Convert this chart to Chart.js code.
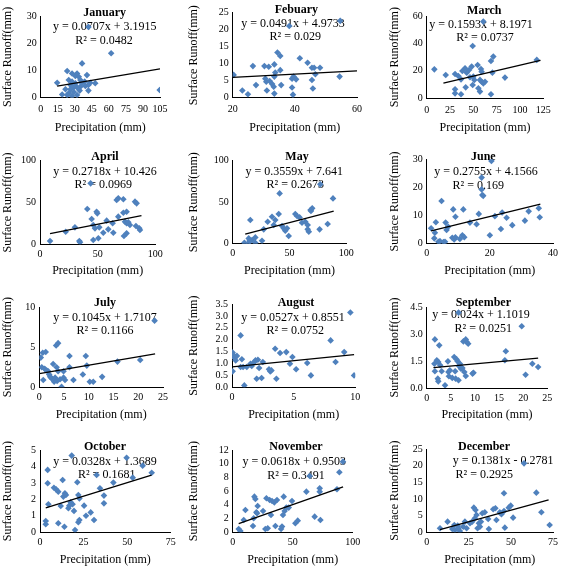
<!DOCTYPE html>
<html>
<head>
<meta charset="utf-8">
<script src="https://cdn.jsdelivr.net/npm/chart.js@4.4.0/dist/chart.umd.min.js"></script>
<style>
  body { margin: 0; background: #fff; }
  #page { position: relative; width: 562px; height: 567px; overflow: hidden; }
  #page canvas { position: absolute; }
</style>
</head>
<body>
<div id="page"></div>
<script>
// ---- data ----
const months = ['January', 'Febuary', 'March', 'April', 'May', 'June',
  'July', 'August', 'September', 'October', 'November', 'December'];
const equations = ['y = 0.0707x + 3.1915', 'y = 0.0491x + 4.9733', 'y = 0.1593x + 8.1971',
  'y = 0.2718x + 10.426', 'y = 0.3559x + 7.641', 'y = 0.2755x + 4.1566',
  'y = 0.1045x + 1.7107', 'y = 0.0527x + 0.8551', 'y = 0.024x + 1.1019',
  'y = 0.0328x + 1.3689', 'y = 0.0618x + 0.9503', 'y = 0.1381x - 0.2781'];
const rSquared = ['0.0482', '0.029', '0.0737', '0.0969', '0.2673', '0.169',
  '0.1166', '0.0752', '0.0251', '0.1681', '0.3491', '0.2925'];
const slopes = [0.0707, 0.0491, 0.1593, 0.2718, 0.3559, 0.2755, 0.1045, 0.0527, 0.024, 0.0328, 0.0618, 0.1381];
const intercepts = [3.1915, 4.9733, 8.1971, 10.426, 7.641, 4.1566, 1.7107, 0.8551, 1.1019, 1.3689, 0.9503, -0.2781];
const trendFrom = [14.5, 20, 17.9, 8.7, 11, 1.4, 0, 0, 1.4, 3.3, 5, 7.9];
const trendTo = [105, 60, 122, 88, 88.9, 36, 23.4, 9.9, 23.1, 64, 92, 72.4];

const xMin = [0, 20, 0, 0, 0, 0, 0, 0, 0, 0, 0, 0];
const xMax = [105, 60, 125, 100, 100, 40, 25, 10, 25, 75, 100, 75];
const xStep = [15, 20, 25, 50, 50, 20, 5, 5, 5, 25, 50, 25];
const yMax = [30, 25, 60, 100, 100, 30, 10, 3.5, 4.5, 5, 12, 25];
const yStep = [10, 5, 20, 50, 50, 10, 5, 0.5, 1.5, 1, 2, 5];
const yDecimals = [0, 0, 0, 0, 0, 0, 0, 1, 1, 0, 0, 0];

const janX = [62, 104.7, 36.4, 23.3, 14.5, 18.9, 40.7, 48, 42, 27.6, 30.5, 33.5, 24.7, 26.2, 29.1, 21.8, 24.7, 27.6, 32, 34.9, 38.7, 43.6, 32, 30.5, 34.9, 39.3, 26.2, 29.1, 34.3, 42, 36.4, 32, 27.6, 23.3, 42];
const janY = [16.3, 2.8, 12.6, 9.8, 5.5, 1.2, 8.3, 5.3, 2.6, 8.9, 8, 7.7, 6.5, 4.7, 3.8, 3.1, 1.6, 0.6, 1, 4, 5.9, 5.5, 3.8, 5.3, 6.5, 4.3, 3.1, 2.1, 2.6, 4.7, 5.3, 8.9, 5.9, 1, 26];
const febX = [54.6, 38.2, 20.3, 26.5, 30.2, 31.6, 33.4, 34.4, 35.3, 35.3, 33.7, 33.4, 30.5, 30.8, 31.9, 32.7, 33.2, 31, 33.4, 35.6, 27.5, 23.1, 24.9, 39.1, 39.6, 40.4, 39.1, 39.4, 41.6, 44.1, 45.5, 46.2, 48.1, 46.6, 45.5, 45.8, 54.4];
const febY = [22.6, 21.1, 6.7, 9.3, 9.3, 9.1, 9.8, 13.3, 12.3, 8.1, 7.4, 6.2, 5.6, 4.7, 4.9, 4, 3.2, 2.1, 1.2, 3.7, 3.7, 2.1, 1, 5.6, 6.2, 5.4, 3, 0.9, 11.6, 10.3, 8.8, 8.8, 8.8, 6.9, 5.2, 2.7, 6.2];
const marX = [8.2, 20.4, 30.4, 30.4, 36.8, 30.4, 33.9, 36.8, 41.1, 42.9, 45.4, 48.2, 50, 51.1, 49.3, 41.8, 54.6, 58.2, 58.9, 57.1, 58.9, 60.7, 62.5, 55.4, 57.1, 68.9, 71.4, 70.4, 68.9, 83.9, 118, 60.7, 49.3, 38.2, 46.4];
const marY = [21.1, 17, 6.6, 3.6, 2.9, 17.7, 16.3, 13.8, 21.9, 18.7, 20.6, 23.1, 15.8, 13.4, 9.7, 8, 24.3, 21.4, 19.4, 13.4, 12.1, 10.9, 12.1, 7.3, 4.9, 27.2, 30.4, 18.7, 2.9, 15.1, 28, 55.9, 38.1, 19.9, 15.3];
const aprX = [8.7, 22.3, 30.3, 34.1, 34.7, 41, 43.9, 44.8, 46.2, 47.7, 49.1, 49.7, 46.2, 50.6, 51.4, 57.8, 54.9, 59.2, 63, 63.6, 66.5, 67.9, 72.3, 67.9, 72.3, 75.1, 73.7, 75.1, 72.8, 75.1, 78, 82.4, 83.8, 83.2, 86.1, 86.7, 76.6];
const aprY = [4, 15.1, 20.3, 4, 2.4, 42.2, 72.9, 30.3, 23.1, 19.1, 39, 37, 5.2, 7.2, 20.3, 28.3, 13.9, 17.9, 25.1, 13.9, 53, 55, 53.8, 33.1, 37.8, 39, 27.1, 25.1, 10, 13.1, 23.1, 51, 49, 21.9, 19.1, 17.1, 26.3];
const mayX = [10.3, 14.1, 15.5, 17.1, 19.9, 19.9, 25.8, 27.3, 14.1, 15, 30.8, 34.6, 37.5, 36.1, 40.5, 41.3, 43.4, 44.9, 46.3, 49.3, 47.8, 55.1, 56.6, 58.9, 61, 63.9, 66, 66, 67, 68.5, 70, 68.9, 76.5, 77.1, 83.6, 88.3];
const mayY = [1.2, 6.4, 28.5, 4.4, 7.6, 1.2, 3.6, 17.3, 1.2, 3.6, 26.5, 32.5, 28.5, 22.5, 35.7, 60.6, 21.3, 18.5, 15.7, 9.2, 18.5, 35.7, 33.3, 31.7, 25.3, 26.5, 22.5, 17.3, 14.5, 40.6, 42.6, 39.4, 17.3, 71.5, 23.7, 54.6];
const junX = [1.4, 2.6, 2.4, 2.9, 3.7, 4.2, 4.7, 5.3, 5.8, 6, 6.3, 6.8, 8.1, 8.4, 8.7, 9.1, 9.1, 10.5, 11.3, 11.6, 11.9, 13.7, 15.8, 16.5, 17.4, 17.4, 17.6, 17.9, 20, 20.5, 21.6, 23.9, 23.5, 25.3, 27.1, 31.1, 32.3, 35.5, 35.8];
const junY = [5.5, 3.9, 1.9, 7.6, 0.7, 0.9, 15.2, 0.6, 0.7, 7.5, 4.9, 6, 2.1, 12.2, 1.5, 9.6, 2.3, 1.7, 3, 12.2, 2.3, 7.5, 6.9, 10.6, 23.5, 19.3, 17.3, 17, 3, 29.4, 9.8, 11.1, 5.2, 9.2, 6.6, 8.2, 11.5, 12.6, 9.4];
const julX = [0.3, 0.5, 0.7, 0.8, 1.3, 1.1, 1.5, 1.8, 2, 2.2, 2.5, 2.8, 3, 3.4, 3.8, 3.5, 3.8, 3.2, 3.6, 4.2, 4.5, 4.9, 5.2, 6.1, 6.1, 6.9, 8.8, 9.4, 9.6, 10.2, 10.9, 12.7, 15.8, 20.4, 23.3, 4.9];
const julY = [3.7, 2.5, 4.3, 0.9, 4.4, 2.3, 2.1, 2, 1.6, 1.3, 1.1, 2.9, 0.7, 5.2, 5.5, 2.5, 2, 1.2, 0.8, 1, 0.05, 1.2, 0.9, 3.9, 2.5, 0.9, 1.6, 3.9, 2.7, 0.7, 0.7, 1.3, 3.2, 3.4, 8.3, 2];
const augX = [0.05, 0.05, 0.1, 0.2, 0.3, 0.4, 0.7, 0.7, 0.8, 0.9, 1, 1.2, 1.5, 1.6, 1.8, 1.9, 2, 2.1, 2.2, 2.4, 2.5, 3, 3.1, 3.2, 3.5, 3.6, 3.9, 4.4, 4.7, 4.9, 5.2, 6.1, 6.4, 8, 8.4, 9.1, 9.6, 9.9];
const augY = [1.46, 0.67, 1.37, 1.23, 1.13, 1.32, 2.18, 0.85, 1.18, 0.85, 0.08, 0.85, 0.99, 0.9, 1.06, 1.13, 0.36, 1.16, 0.81, 0.39, 1.06, 0.76, 0.67, 0.71, 1.62, 0.36, 1.44, 1.48, 0.99, 1.27, 0.76, 1.02, 0.5, 1.97, 1.06, 1.48, 3.14, 0.5];
const sepX = [1.7, 1.6, 1.7, 2.1, 2.4, 2.6, 2.3, 2.4, 2.8, 3.1, 3.8, 4.4, 4.5, 4.6, 4.8, 5.3, 5.7, 5.9, 6, 6.2, 6.4, 6.6, 6.7, 6.9, 7.1, 7.4, 7.6, 7.8, 8.1, 8.3, 8.6, 8.1, 9.7, 9.5, 6.6, 16.2, 16.4, 19.7, 20.5, 21.9, 23.1];
const sepY = [2.7, 1.35, 0.93, 1.54, 1.44, 2.37, 0.52, 0.37, 1.26, 0.93, 0.15, 1.48, 0.89, 0.65, 0.98, 0.56, 1.72, 0.93, 0.52, 1.59, 1.48, 0.43, 1.22, 1.35, 1.07, 1.11, 2.59, 0.89, 2.7, 2.56, 2.46, 0.67, 0.85, 0.8, 4.19, 1.54, 2.04, 3.43, 0.74, 1.35, 1.17];
const octX = [3.3, 3.3, 4.4, 4.4, 4.8, 8, 9.2, 10.5, 10.5, 11.9, 13, 13.4, 14.3, 14, 14.9, 16.3, 16.8, 17.6, 18.2, 18.7, 19.5, 20.1, 21.4, 22, 22.6, 22, 22.6, 25.3, 26.4, 29.1, 31, 32.5, 34.4, 36.7, 36.7, 42.1, 49.7, 53.2, 58.9, 64.1];
const octY = [0.69, 0.49, 3.79, 2.98, 1.7, 2.71, 2.61, 2.47, 0.55, 1.6, 3.18, 2.17, 2.37, 0.34, 2.27, 1.46, 1.62, 1.82, 4.66, 1.7, 1.3, 0.14, 3.04, 2.27, 2.06, 0.61, 0.75, 1.62, 1.01, 1.21, 0.75, 3.48, 2.67, 2.23, 1.76, 3.02, 4.53, 3.32, 4.05, 3.62];
const novX = [5, 6.4, 9.2, 10.6, 16.9, 17.5, 18.1, 18.9, 19.7, 20.3, 20.8, 25.3, 27.2, 28.1, 29.2, 30.8, 31.9, 32.8, 34.7, 35.6, 36.9, 40.3, 41.1, 41.9, 42.5, 43.3, 44.7, 46.7, 49.4, 52.2, 54.2, 61.4, 64.2, 68.3, 72.5, 72.5, 73.1, 86.9, 88.9, 91.9];
const novY = [0.49, 0.19, 1.8, 3.26, 0.92, 2.04, 5.2, 4.86, 2.92, 2.77, 3.84, 3.11, 0.49, 4.96, 0.58, 4.71, 2.53, 4.57, 4.37, 0.92, 4.71, 0.49, 0.83, 2.53, 5.2, 3.11, 3.6, 3.6, 4.57, 1.31, 1.7, 5.93, 8.21, 2.28, 6.41, 5.93, 1.8, 6.27, 8.75, 10.3];
const decX = [7.9, 12.4, 15.2, 16.4, 16.8, 18.4, 18.8, 19.7, 21.7, 22.7, 23.7, 25.7, 27, 28, 29, 28.6, 29.6, 30.2, 31, 31.6, 32.2, 33, 34.5, 36.5, 36.9, 39.5, 40.8, 41.4, 43.4, 44.4, 45.9, 45.9, 46.4, 48.7, 49.9, 51.3, 57.8, 65.1, 68.1, 73];
const decY = [1.2, 3.2, 1, 2.2, 0.7, 2, 1.2, 0.4, 1.7, 3.2, 1.2, 2.7, 3.2, 7.4, 6.7, 4.2, 5.2, 1.2, 2.7, 1.7, 3.2, 5.7, 6, 4, 1, 6.9, 7.2, 3.7, 6, 5.4, 11.7, 6.4, 1.4, 7.4, 8, 4.4, 20.7, 11.9, 6, 2.2];

const precip = [janX, febX, marX, aprX, mayX, junX, julX, augX, sepX, octX, novX, decX];
const runoff = [janY, febY, marY, aprY, mayY, junY, julY, augY, sepY, octY, novY, decY];

// ---- layout (page pixels) ----
const cols = [0, 187, 375, 562];
const rows = [0, 140, 282, 425, 567];
// plot area [left, right, top, bottom]
const plotBox = [
  [40.7, 160, 16, 97.7], [232.7, 357, 12.7, 97.7], [426.7, 543.3, 16, 98.3],
  [40, 155.3, 160.7, 244.3], [232.7, 346.3, 160.7, 243.7], [426.7, 553.3, 159.3, 243.7],
  [39.3, 163, 307, 387.3], [232, 355.3, 304, 387.3], [426.7, 547.3, 307, 388],
  [40, 170.7, 450, 532.3], [232.7, 352.7, 450, 532.3], [426.7, 553.3, 449, 532.3]
];
const yTitleX = [7.5, 194, 395];
const xTitleY = [128, 270.7, 414.7, 560];
const xTickGap = [6, 4, 4, 4];
// [titleX, titleY, eqX, eqY, r2X, r2Y]
const textPos = [
  [104.7, 12.7, 104.7, 26.7, 104, 40.7], [296.3, 10, 293, 24, 295.3, 37.3], [484.3, 11, 481, 25, 485, 38.3],
  [105, 157.3, 105, 172.3, 103.3, 185], [297, 157.3, 294.3, 172.3, 295.3, 185], [483.3, 156.7, 486, 172.3, 478.3, 185.7],
  [105, 302.7, 105, 317.7, 105, 331.3], [296, 302.7, 293, 317.7, 295.3, 331.3], [483.3, 302.7, 481, 315.3, 483.3, 329.3],
  [105, 447.3, 105, 461.7, 106.7, 475], [296, 447.3, 294.3, 461.7, 296, 475.7], [484, 447.3, 503.2, 460.7, 484.3, 475]
];

const FONT = "'Liberation Serif', 'Times New Roman', serif";
Chart.defaults.font.family = FONT;
Chart.defaults.color = '#000';

const panelText = {
  id: 'panelText',
  beforeDatasetsDraw(chart, args, opts) {
    const ctx = chart.ctx;
    ctx.save();
    ctx.fillStyle = '#000';
    ctx.textAlign = 'center';
    ctx.textBaseline = 'middle';
    ctx.font = 'bold 12px ' + FONT;
    ctx.fillText(opts.title, opts.pos[0], opts.pos[1]);
    ctx.font = '12px ' + FONT;
    ctx.fillText(opts.eq, opts.pos[2], opts.pos[3]);
    ctx.fillText(opts.r2, opts.pos[4], opts.pos[5]);
    ctx.restore();
  }
};

const page = document.getElementById('page');

months.forEach((m, i) => {
  const c = i % 3, r = Math.floor(i / 3);
  const cx = cols[c], cy = rows[r];
  const cw = cols[c + 1] - cols[c], ch = rows[r + 1] - rows[r];
  const [L, R, T, B] = plotBox[i];

  const canvas = document.createElement('canvas');
  canvas.width = cw;
  canvas.height = ch;
  canvas.style.left = cx + 'px';
  canvas.style.top = cy + 'px';
  page.appendChild(canvas);

  const pts = precip[i].map((x, k) => ({ x: x, y: runoff[i][k] }));
  const trend = [trendFrom[i], trendTo[i]].map(x => ({ x: x, y: slopes[i] * x + intercepts[i] }));
  const pos = textPos[i].map((v, k) => v - (k % 2 === 0 ? cx : cy));

  const yPad = Math.max(0, yTitleX[c] - cx - 7.2);
  const xPad = Math.max(0, ch - 7.2 - (xTitleY[r] - cy));

  new Chart(canvas, {
    type: 'scatter',
    data: {
      datasets: [
        {
          data: trend,
          showLine: true,
          borderColor: '#000',
          borderWidth: 1.3,
          pointRadius: 0
        },
        {
          data: pts,
          pointStyle: 'rectRot',
          pointRadius: 3.3,
          backgroundColor: '#4F81BD',
          borderColor: '#4F81BD',
          borderWidth: 0
        }
      ]
    },
    options: {
      responsive: false,
      animation: false,
      devicePixelRatio: 1,
      layout: { padding: { left: 0, top: T - cy, right: cx + cw - R, bottom: 0 } },
      plugins: {
        legend: { display: false },
        tooltip: { enabled: false },
        panelText: { title: m, eq: equations[i], r2: 'R² = ' + rSquared[i], pos: pos }
      },
      scales: {
        x: {
          type: 'linear',
          min: xMin[i],
          max: xMax[i],
          grid: { display: false, drawTicks: false },
          border: { display: true, color: '#000', width: 1 },
          ticks: { stepSize: xStep[i], autoSkip: false, maxRotation: 0, padding: xTickGap[r], font: { size: 10 } },
          title: { display: true, text: 'Precipitation (mm)', font: { size: 12 }, padding: { top: 0, bottom: xPad } },
          afterFit: (s) => { s.height = cy + ch - B; }
        },
        y: {
          type: 'linear',
          min: 0,
          max: yMax[i],
          grid: { display: false, drawTicks: false },
          border: { display: true, color: '#000', width: 1 },
          ticks: {
            stepSize: yStep[i], autoSkip: false, padding: 4, font: { size: 10 },
            callback: (v) => Number(v).toFixed(yDecimals[i])
          },
          title: { display: true, text: 'Surface Runoff(mm)', font: { size: 12 }, padding: { top: yPad, bottom: 0 } },
          afterFit: (s) => { s.width = L - cx; }
        }
      }
    },
    plugins: [panelText]
  });
});
</script>
</body>
</html>
